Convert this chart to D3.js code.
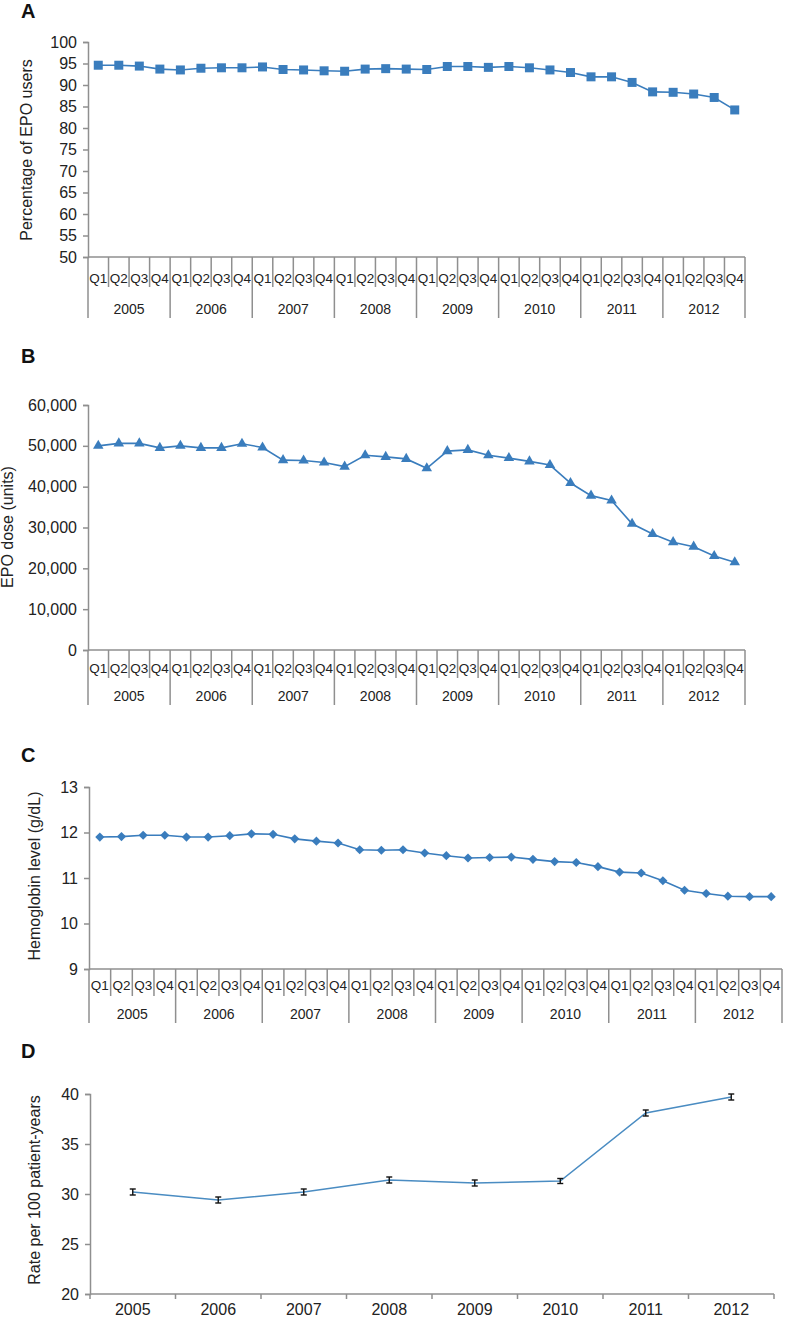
<!DOCTYPE html>
<html>
<head>
<meta charset="utf-8">
<script src="https://cdn.jsdelivr.net/npm/d3@7"></script>
<style>
  html, body { margin: 0; padding: 0; background: #fff; }
  svg { display: block; font-family: "Liberation Sans", Arial, sans-serif; }
</style>
</head>
<body>
<svg id="chart" width="787" height="1320"></svg>
<script>
// ---- data ----
const years = ["2005", "2006", "2007", "2008", "2009", "2010", "2011", "2012"];
const quarters = ["Q1", "Q2", "Q3", "Q4"];

const epoUsers = [94.6, 94.6, 94.4, 93.7, 93.5, 93.9, 94.0, 94.0,
                  94.2, 93.6, 93.5, 93.3, 93.2, 93.7, 93.8, 93.7,
                  93.6, 94.3, 94.3, 94.1, 94.3, 94.0, 93.5, 92.9,
                  91.9, 91.9, 90.6, 88.4, 88.3, 87.9, 87.1, 84.2];

const epoDose = [50000, 50600, 50600, 49500, 50000, 49500, 49500, 50500,
                 49600, 46500, 46400, 45900, 44900, 47700, 47300, 46800,
                 44500, 48700, 49000, 47700, 47000, 46200, 45300, 40900,
                 37800, 36600, 30900, 28400, 26400, 25300, 23000, 21500];

const hemoglobin = [11.90, 11.91, 11.94, 11.94, 11.90, 11.90, 11.93, 11.97,
                    11.96, 11.86, 11.81, 11.77, 11.62, 11.61, 11.62, 11.55,
                    11.49, 11.44, 11.45, 11.46, 11.41, 11.36, 11.34, 11.25,
                    11.13, 11.11, 10.94, 10.73, 10.66, 10.60, 10.59, 10.59];

const transfusionRate = [30.2, 29.4, 30.2, 31.4, 31.1, 31.3, 38.1, 39.7];
const transfusionErr  = [0.3, 0.3, 0.3, 0.3, 0.3, 0.25, 0.3, 0.3];

const ticksA = [50, 55, 60, 65, 70, 75, 80, 85, 90, 95, 100];
const ticksB = [0, 10000, 20000, 30000, 40000, 50000, 60000];
const ticksC = [9, 10, 11, 12, 13];
const ticksD = [20, 25, 30, 35, 40];

// ---- style ----
const blue = "#3a7dbd";
const axisGray = "#8f8f8f";
const svg = d3.select("#chart");
const quarterKeys = years.flatMap(y => quarters.map(q => y + "-" + q));

function panelLabel(txt, x, y) {
  svg.append("text").attr("x", x).attr("y", y)
    .attr("font-size", 20).attr("font-weight", "bold").attr("fill", "#111")
    .text(txt);
}

function yTitle(txt, x, yc) {
  svg.append("text")
    .attr("transform", `translate(${x},${yc}) rotate(-90)`)
    .attr("text-anchor", "middle").attr("font-size", 16).attr("fill", "#222")
    .text(txt);
}

function yAxis(y, x0, ticks, fmt) {
  const g = svg.append("g").attr("transform", `translate(${x0},0)`)
    .call(d3.axisLeft(y).tickValues(ticks).tickSize(5).tickPadding(6).tickFormat(fmt));
  g.select(".domain").attr("stroke", axisGray).attr("stroke-width", 1.5);
  g.selectAll(".tick line").attr("stroke", axisGray).attr("stroke-width", 1.5);
  g.selectAll(".tick text").attr("font-size", 16).attr("fill", "#222")
    .attr("font-family", "'Liberation Sans', Arial, sans-serif");
  return g;
}

function quarterAxis(x, yAxisPos, opt) {
  const g = svg.append("g");
  const bw = x.bandwidth();
  const [r0, r1] = x.range();
  g.append("line").attr("x1", r0).attr("x2", r1).attr("y1", yAxisPos).attr("y2", yAxisPos)
    .attr("stroke", axisGray).attr("stroke-width", 1.5);
  quarterKeys.forEach((k, i) => {
    const xb = x(k);
    const isYear = i % 4 === 0;
    g.append("line").attr("x1", xb).attr("x2", xb)
      .attr("y1", yAxisPos).attr("y2", yAxisPos + (isYear ? opt.yearSep : opt.qSep))
      .attr("stroke", axisGray).attr("stroke-width", 1.5);
    g.append("text").attr("x", xb + bw / 2).attr("y", yAxisPos + opt.qText)
      .attr("text-anchor", "middle").attr("font-size", 13.5).attr("fill", "#222")
      .text(quarters[i % 4]);
  });
  g.append("line").attr("x1", r1).attr("x2", r1)
    .attr("y1", yAxisPos).attr("y2", yAxisPos + opt.yearSep)
    .attr("stroke", axisGray).attr("stroke-width", 1.5);
  years.forEach(yr => {
    const xa = x(yr + "-Q1"), xb = x(yr + "-Q4") + bw;
    g.append("text").attr("x", (xa + xb) / 2).attr("y", yAxisPos + opt.yearText)
      .attr("text-anchor", "middle").attr("font-size", 14).attr("fill", "#222")
      .text(yr);
  });
}

function quarterPanel(cfg) {
  const x = d3.scaleBand().domain(quarterKeys).range([cfg.x0, cfg.x1]).padding(0);
  const y = d3.scaleLinear().domain(cfg.domain).range([cfg.yBottom, cfg.yTop]);
  const cx = (k) => x(k) + x.bandwidth() / 2;
  yAxis(y, cfg.x0, cfg.ticks, cfg.fmt);
  quarterAxis(x, cfg.yBottom, cfg.axisOpt);
  const line = d3.line().x((d, i) => cx(quarterKeys[i])).y(d => y(d));
  svg.append("path").datum(cfg.values).attr("d", line)
    .attr("fill", "none").attr("stroke", blue).attr("stroke-width", 1.6);
  const sym = d3.symbol().type(cfg.symbol).size(cfg.size);
  svg.append("g").selectAll("path").data(cfg.values).join("path")
    .attr("d", sym)
    .attr("transform", (d, i) => `translate(${cx(quarterKeys[i])},${y(d)}) rotate(${cfg.rotate || 0})`)
    .attr("fill", blue);
}

// ---- Panel A ----
panelLabel("A", 21, 18);
yTitle("Percentage of EPO users", 32, 150);
quarterPanel({
  x0: 88, x1: 745, yTop: 42, yBottom: 257, domain: [50, 100], ticks: ticksA,
  fmt: d3.format("d"), values: epoUsers, symbol: d3.symbolSquare, size: 81,
  axisOpt: { qSep: 30, yearSep: 61, qText: 26, yearText: 57 }
});

// ---- Panel B ----
panelLabel("B", 21, 363);
yTitle("EPO dose (units)", 13, 527);
quarterPanel({
  x0: 88, x1: 745, yTop: 405, yBottom: 650, domain: [0, 60000], ticks: ticksB,
  fmt: d3.format(","), values: epoDose, symbol: d3.symbolTriangle, size: 48,
  axisOpt: { qSep: 28, yearSep: 55, qText: 23, yearText: 51 }
});

// ---- Panel C ----
panelLabel("C", 21, 762);
yTitle("Hemoglobin level (g/dL)", 40, 876);
quarterPanel({
  x0: 89, x1: 782, yTop: 787, yBottom: 969, domain: [9, 13], ticks: ticksC,
  fmt: d3.format("d"), values: hemoglobin, symbol: d3.symbolSquare, size: 42, rotate: 45,
  axisOpt: { qSep: 27, yearSep: 54, qText: 21, yearText: 50 }
});

// ---- Panel D ----
panelLabel("D", 21, 1058);
yTitle("Rate per 100 patient-years", 40, 1190);
(function () {
  const x = d3.scaleBand().domain(years).range([90, 774]).padding(0);
  const y = d3.scaleLinear().domain([20, 40]).range([1294, 1094]);
  const cx = (k) => x(k) + x.bandwidth() / 2;
  yAxis(y, 90, ticksD, d3.format("d"));
  const gx = svg.append("g").attr("transform", "translate(0,1294)");
  gx.append("line").attr("x1", 90).attr("x2", 774).attr("stroke", axisGray).attr("stroke-width", 1.5);
  years.concat(["end"]).forEach((yr, i) => {
    const xb = i < years.length ? x(yr) : 774;
    gx.append("line").attr("x1", xb).attr("x2", xb).attr("y1", 0).attr("y2", 5)
      .attr("stroke", axisGray).attr("stroke-width", 1.5);
  });
  years.forEach(yr => {
    gx.append("text").attr("x", cx(yr)).attr("y", 21).attr("text-anchor", "middle")
      .attr("font-size", 16).attr("fill", "#222").text(yr);
  });
  const line = d3.line().x((d, i) => cx(years[i])).y(d => y(d));
  svg.append("path").datum(transfusionRate).attr("d", line)
    .attr("fill", "none").attr("stroke", "#4a8cc2").attr("stroke-width", 1.5);
  const eg = svg.append("g").attr("stroke", "#111").attr("stroke-width", 1.4);
  transfusionRate.forEach((v, i) => {
    const xc = cx(years[i]);
    const e = transfusionErr[i];
    eg.append("line").attr("x1", xc).attr("x2", xc).attr("y1", y(v - e)).attr("y2", y(v + e));
    eg.append("line").attr("x1", xc - 3).attr("x2", xc + 3).attr("y1", y(v - e)).attr("y2", y(v - e));
    eg.append("line").attr("x1", xc - 3).attr("x2", xc + 3).attr("y1", y(v + e)).attr("y2", y(v + e));
  });
})();
</script>
</body>
</html>
